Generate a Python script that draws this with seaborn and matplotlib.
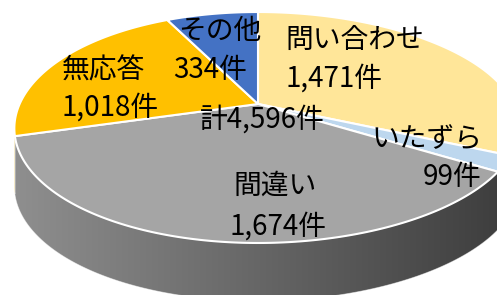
import numpy as np
import matplotlib
matplotlib.use("Agg")
import matplotlib.pyplot as plt
from matplotlib.patches import Polygon
from matplotlib.colors import to_rgb
import seaborn as sns

# data (clockwise from 12 o'clock)
names = ["問い合わせ", "いたずら", "間違い", "無応答", "その他"]
counts = [1471, 99, 1674, 1018, 334]
colors = ["#FFE699", "#BDD7EE", "#A5A5A5", "#FFC000", "#4472C4"]

sns.set_theme(style="white")
plt.rcParams["font.family"] = ["Noto Sans CJK JP", "DejaVu Sans"]

W, H = 497, 295
fig = plt.figure(figsize=(W / 100, H / 100), dpi=100)
ax = fig.add_axes([0, 0, 1, 1])

# plain pie first, its wedge angles are reused for the tilted 3d version
wedges, _ = ax.pie(counts, colors=colors, startangle=90, counterclock=False)

# perspective view of the disc (pixel-like axes, y down)
X0, Y0 = 258, 104
A, B, c, k = 247, 110.7, 0.2035, 0.035
depth = 58


def proj(t):
    x, y = np.cos(t), np.sin(t)
    d = 1 + c * y
    return X0 + A * x * (1 + k * x) / d, Y0 - B * y / d


ax.set_aspect("auto")
ax.set_xlim(0, W)
ax.set_ylim(H, 0)
ax.axis("off")

t_lo_vis = -np.pi + np.arcsin(c)
t_hi_vis = -np.arcsin(c)
shade_x = np.linspace(0, W, 400)
shade = 0.88 - 0.50 * shade_x / W

for w, col in zip(wedges, colors):
    th1, th2 = np.radians(w.theta1), np.radians(w.theta2)
    w.remove()
    lo, hi = min(th1, th2), max(th1, th2)
    # side wall
    for kk in (-2 * np.pi, 0, 2 * np.pi):
        a = max(lo + kk, t_lo_vis)
        b = min(hi + kk, t_hi_vis)
        if b <= a:
            continue
        t = np.linspace(a, b, 120)
        xs, ys = proj(t)
        verts = np.vstack([np.column_stack([xs, ys]),
                           np.column_stack([xs[::-1], ys[::-1] + depth])])
        poly = Polygon(verts, closed=True, facecolor="none", edgecolor="none")
        ax.add_patch(poly)
        img = np.array(to_rgb(col))[None, None, :] * shade[None, :, None]
        im = ax.imshow(img, extent=[0, W, H, 0], aspect="auto", zorder=2,
                       interpolation="bilinear")
        im.set_clip_path(poly)
        ax.add_patch(Polygon(verts, closed=True, facecolor="none",
                             edgecolor="white", linewidth=0.6, alpha=0.5,
                             zorder=3))
    # top face
    t = np.linspace(lo, hi, 200)
    xs, ys = proj(t)
    verts = np.vstack([[X0, Y0], np.column_stack([xs, ys])])
    ax.add_patch(Polygon(verts, closed=True, facecolor=col, edgecolor="white",
                         linewidth=1.5, joinstyle="round", zorder=5))

ax.set_xlim(0, W)
ax.set_ylim(H, 0)

fs = 20
def put(x, y, s, ha="left"):
    ax.text(x, y, s, ha=ha, va="center", fontsize=fs, color="black",
            zorder=10)

total = sum(counts)
lab = [f"{v:,}件" for v in counts]
put(285, 40, names[0]); put(285, 79, lab[0])
put(482, 140, names[1], "right"); put(482, 177, lab[1], "right")
put(233, 186, names[2]); put(230, 227, lab[2])
put(62, 70, names[3]); put(62, 108, lab[3])
put(178, 31, names[4]); put(173, 70, lab[4])
put(200, 120, f"計{total:,}件")

fig.savefig("out.png", dpi=100)
